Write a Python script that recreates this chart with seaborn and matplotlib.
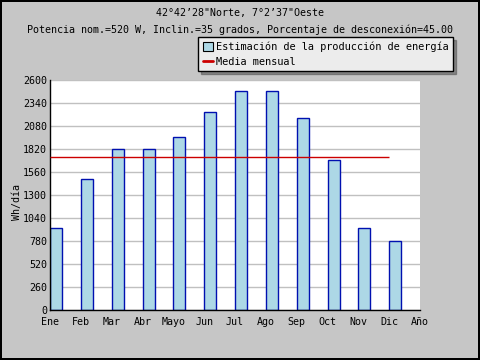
import matplotlib
matplotlib.use("Agg")
import matplotlib.pyplot as plt
import numpy as np
import pandas as pd
import seaborn as sns

months = ["Ene", "Feb", "Mar", "Abr", "Mayo", "Jun", "Jul", "Ago", "Sep", "Oct", "Nov", "Dic"]
tick_labels = months + ["Año"]
energy = [923, 1477, 1820, 1820, 1959, 2235, 2472, 2472, 2167, 1692, 923, 776]
yticks = list(range(0, 2601, 260))

title1 = "42°42’28\"Norte, 7°2’37\"Oeste"
title2 = "Potencia nom.=520 W, Inclin.=35 grados, Porcentaje de desconexión=45.00"

sns.set_theme(style="white")
plt.rcParams["font.family"] = ["DejaVu Sans Mono", "DejaVu Sans"]
plt.rcParams["font.size"] = 7.2
plt.rcParams["text.color"] = "black"
plt.rcParams["axes.labelcolor"] = "black"
plt.rcParams["xtick.color"] = "black"
plt.rcParams["ytick.color"] = "black"

df = pd.DataFrame({"mes": months, "energia": energy})

fig = plt.figure(figsize=(4.8, 3.6), dpi=100, facecolor="#c6c6c6",
                 edgecolor="black", linewidth=1.5)
ax = fig.add_axes([50 / 480, 50 / 360, 370 / 480, 230 / 360])
ax.set_facecolor("white")

sns.barplot(data=df, x="mes", y="energia", width=0.39, color="#add8e6",
            edgecolor="#0010b0", linewidth=1.0, saturation=1, ax=ax, zorder=2)
# bars start at the tick, not centred on it
for p in ax.patches:
    p.set_x(p.get_x() + p.get_width() / 2)

mean = np.mean(energy)
ax.hlines(mean, 0, len(months) - 1, color="#cc0000", linewidth=1.0, zorder=3)

ax.set_xlim(0, len(months))
ax.set_xticks(range(len(tick_labels)))
ax.set_xticklabels(tick_labels)
ax.set_ylim(0, 2600)
ax.set_yticks(yticks)
ax.yaxis.grid(True, color="#c0c0c0", linewidth=1.0, zorder=0)
ax.set_axisbelow(True)
ax.tick_params(direction="in", length=4, width=1, color="black", pad=2, labelsize=7.2)
ax.tick_params(axis="x", pad=5)

for s in ["top", "right"]:
    ax.spines[s].set_visible(False)
for s in ["left", "bottom"]:
    ax.spines[s].set_color("black")
    ax.spines[s].set_linewidth(1.0)

ax.set_xlabel("")
ax.set_ylabel("Wh/día", fontsize=7.2)
ax.yaxis.set_label_coords(-0.075, 0.47)

fig.text(0.5, 1 - 13 / 360, title1, ha="center", va="center", fontsize=7.2)
fig.text(0.5, 1 - 30 / 360, title2, ha="center", va="center", fontsize=7.2)

handles = [
    plt.Rectangle((0, 0), 1, 1, facecolor="#add8e6", edgecolor="black", linewidth=0.8),
    plt.Line2D([0], [0], color="#cc0000", linewidth=2),
]
leg = fig.legend(handles, ["Estimación de la producción de energía", "Media mensual"],
                 loc="upper left", bbox_to_anchor=(198 / 480, 1 - 37 / 360),
                 frameon=True, fancybox=False, shadow=True, fontsize=7.4,
                 handlelength=1.0, handleheight=1.0, handletextpad=0.3,
                 borderpad=0.45, labelspacing=0.45, borderaxespad=0)
leg.get_frame().set_facecolor("#ececec")
leg.get_frame().set_edgecolor("black")
leg.get_frame().set_linewidth(1.0)
leg.get_frame().set_alpha(1)

fig.savefig("out.png", dpi=100, facecolor=fig.get_facecolor(), edgecolor="black")
plt.close(fig)
